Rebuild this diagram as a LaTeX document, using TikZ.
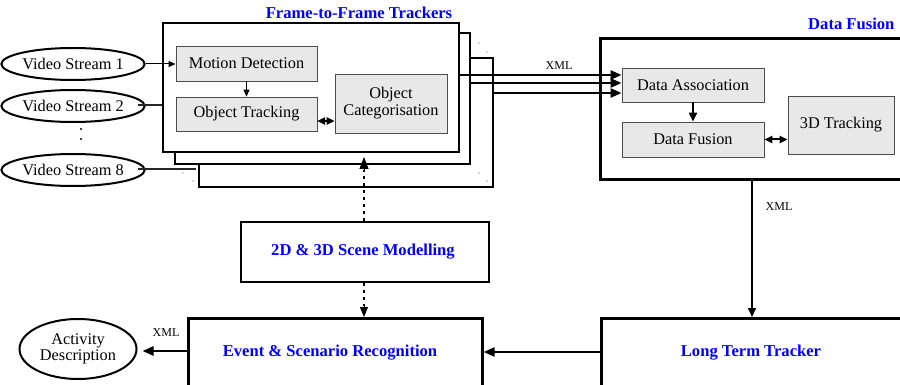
\documentclass[tikz,border=0pt]{standalone}
\usepackage{fontspec}
\setmainfont{Liberation Serif}
\usetikzlibrary{arrows.meta,shapes.geometric}
\begin{document}
\begin{tikzpicture}[x=1pt,y=-1pt,
  lab/.style={font=\fontsize{16.3}{18}\selectfont},
  gbox/.style={draw=gray!60!black, line width=0.8pt, fill=gray!18, lab, inner sep=0pt, align=center},
  bigbox/.style={draw=black, line width=2.6pt, fill=white, inner sep=0pt},
  vs/.style={ellipse, draw, line width=2pt, minimum width=125pt, minimum height=32pt, inner sep=0pt, lab},
  ttl/.style={font=\bfseries\fontsize{16.6}{18}\selectfont, text=blue},
  xml/.style={font=\fontsize{12}{14}\selectfont},
  tarrow/.style={line width=2.4pt, -{Triangle[length=11pt,width=9pt]}},
  marrow/.style={line width=2pt, -{Triangle[length=9pt,width=8pt]}},
  darrow/.style={line width=2pt, {Triangle[length=8pt,width=7pt]}-{Triangle[length=8pt,width=7pt]}},
  sarrow/.style={line width=1pt, -{Triangle[length=7pt,width=6pt]}},
  dotline/.style={line width=2.2pt, dash pattern=on 3pt off 4pt},
  tinydot/.style={fill=gray!70!black}
]
\useasboundingbox (0,0) rectangle (900,385);
\clip (0,0) rectangle (900,385);

% Frame-to-frame tracker stack
\node[bigbox, minimum width=294pt, minimum height=129pt] (f3) at (346,122.5) {};
\node[bigbox, minimum width=295pt, minimum height=131pt] (f2) at (322.5,98.5) {};
\node[bigbox, minimum width=296pt, minimum height=129pt] (f1) at (311,87.5) {};
\node[ttl] (t1) at (359,13) {Frame-to-Frame Trackers};

\node[gbox, minimum width=141pt, minimum height=35pt] (md) at (246.5,63.5) {Motion Detection};
\node[gbox, minimum width=141pt, minimum height=34pt] (ot) at (246.5,114) {Object Tracking};
\node[gbox, minimum width=112pt, minimum height=59pt] (oc) at (391,103.5) {Object\\[-1pt]Categorisation};

% tiny dots
\fill[tinydot] (183,173) circle (0.7);
\fill[tinydot] (193,181) circle (0.7);
\fill[tinydot] (479,43) circle (0.7);
\fill[tinydot] (487,52) circle (0.7);
\fill[tinydot] (479,173) circle (0.7);
\fill[tinydot] (487,181) circle (0.7);

% Video streams
\node[vs] (vs1) at (73,64) {Video Stream 1};
\node[vs] (vs2) at (73,106) {Video Stream 2};
\node[vs] (vs8) at (73,170) {Video Stream 8};
\fill (81,129) circle (1.1);
\fill (81,139) circle (1.1);

\draw[sarrow] (vs1.east) -- (vs1.east -| md.west);
\coordinate (v2s) at (138,105);
\draw[line width=1.2pt, gray!30!black] (v2s) -- (v2s -| f1.west);
\coordinate (v8s) at (138,169);
\coordinate (v8e) at (196,169);
\draw[line width=1.2pt, gray!30!black] (v8s) -- (v8e);

\draw[sarrow] (md) -- (ot);
\coordinate (otc) at (317,121);
\draw[darrow] (otc) -- (otc -| oc.west);

% Data fusion
\node[bigbox, minimum width=360pt, minimum height=141pt, anchor=north west] (dfo) at (599,37) {};
\node[ttl, anchor=east] (t2) at (898,24) {Data Fusion};
\node[gbox, minimum width=142pt, minimum height=34pt] (da) at (693,85) {Data Association};
\node[gbox, minimum width=142pt, minimum height=35pt] (df) at (693,139.5) {Data Fusion};
\node[gbox, minimum width=106pt, minimum height=58pt] (t3) at (841,125) {3D Tracking};
\draw[marrow] (da) -- (df);
\draw[darrow] (df.east) -- (df.east -| t3.west);

% XML arrows from trackers
\coordinate (a1) at (459,75);
\coordinate (a2) at (470,83);
\coordinate (a3) at (493,93);
\draw[tarrow] (a1) -- (a1 -| da.west);
\draw[tarrow] (a2) -- (a2 -| da.west);
\draw[tarrow] (a3) -- (a3 -| da.west);
\node[xml] (x1) at (559,66) {XML};

% Scene modelling
\node[bigbox, minimum width=248pt, minimum height=60pt] (sc) at (365,252) {};
\node[ttl] (sct) at (363,252) {2D \& 3D Scene Modelling};

% lower boxes
\node[bigbox, minimum width=294pt, minimum height=100pt, anchor=north west] (ev) at (187,317) {};
\node[ttl] (evt) at (330,353) {Event \& Scenario Recognition};
\node[bigbox, minimum width=360pt, minimum height=100pt, anchor=north west] (ltt) at (600,317) {};
\node[ttl] (lttt) at (751,353) {Long Term Tracker};

\node[ellipse, draw, line width=2pt, minimum width=117pt, minimum height=60pt, inner sep=0pt, lab, align=center] (act) at (78,349) {Activity\\[-2pt]Description};

% connectors lower
\coordinate (dl) at (752,0);
\draw[marrow] (dl |- dfo.south) -- (dl |- ltt.north);
\node[xml] (x2) at (779,207) {XML};
\coordinate (lm) at (600,352);
\draw[tarrow] (lm) -- (lm -| ev.east);
\coordinate (em) at (187,351);
\draw[tarrow, shorten >=5pt] (em) -- (em -| act.east);
\node[xml] (x3) at (166,333) {XML};

\coordinate (sx) at (364,0);
\draw[dotline] (sx |- sc.north) -- (sx |- 0,170);
\draw[-{Triangle[length=12pt,width=9pt]}, line width=1pt] (sx |- 0,169) -- (sx |- 0,157);
\draw[dotline] (sx |- sc.south) -- (sx |- 0,306);
\draw[-{Triangle[length=10pt,width=8pt]}, line width=1pt] (sx |- 0,305) -- (sx |- ev.north);
\end{tikzpicture}
\end{document}
